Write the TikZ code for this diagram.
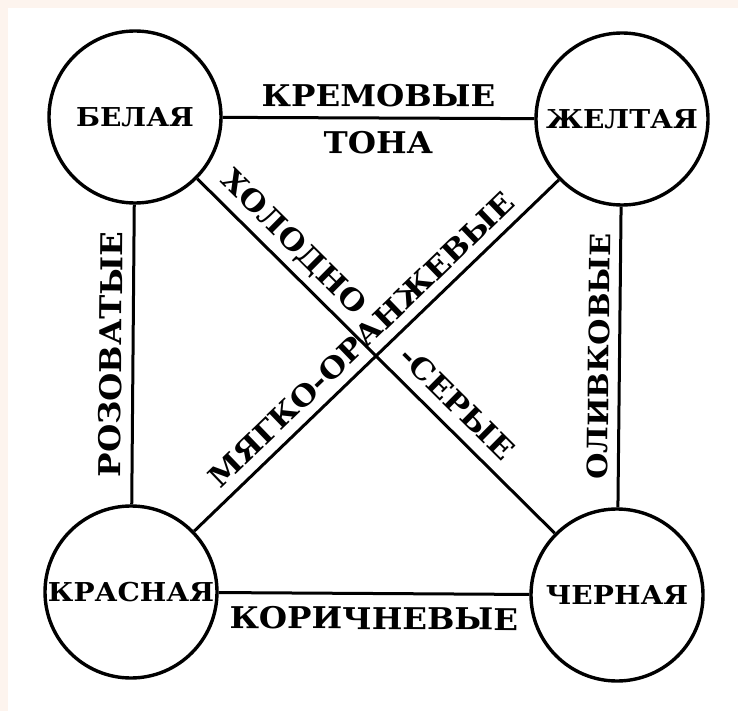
\documentclass[tikz,border=0pt]{standalone}
\usepackage{fontspec}
\setmainfont{DejaVu Serif}
\newfontfamily\lblfont{DejaVu Serif Bold}[FakeStretch=1.08]
\definecolor{bgpink}{RGB}{253,244,238}
\begin{document}
\begin{tikzpicture}[x=1pt,y=-1pt,
  circ/.style={circle, draw, line width=3.4pt, minimum size=172pt, inner sep=0pt,
    font=\lblfont\fontsize{26}{26}\selectfont},
  conn/.style={line width=3pt},
  labA/.style={font=\lblfont\fontsize{30}{30}\selectfont, sloped, anchor=south,
    inner xsep=0pt, inner ysep=#1, text depth=0pt},
  labB/.style={font=\lblfont\fontsize{30}{30}\selectfont, sloped, anchor=north,
    inner xsep=0pt, inner ysep=#1, text depth=0pt},
  diag/.style={font=\lblfont\fontsize{29}{29}\selectfont},
  narrow/.style={font=\lblfont\fontsize{28}{28}\selectfont}]
\fill[bgpink] (0,0) rectangle (738,711);
\fill[white] (8,8) rectangle (738,711);
\useasboundingbox (0,0) rectangle (738,711);
\node[circ] (W) at (135,117) {\makebox[0pt]{БЕЛАЯ}};
\node[circ] (Y) at (622,119) {\makebox[0pt]{ЖЕЛТАЯ}};
\node[circ] (R) at (131,592) {\makebox[0pt]{КРАСНАЯ}};
\node[circ] (K) at (617,595) {\makebox[0pt]{ЧЕРНАЯ}};
\draw[conn] (W) -- (Y)
  node[labA=10pt, midway] (l1) {КРЕМОВЫЕ}
  node[labB=12pt, midway] (l2) {ТОНА};
\draw[conn] (R) -- (W) node[labA=10pt, midway] (l3) {РОЗОВАТЫЕ};
\draw[conn] (Y) -- (K) node[labA=9pt, narrow, midway] (l4) {ОЛИВКОВЫЕ};
\draw[conn] (R) -- (K) node[labB=12pt, midway] (l5) {КОРИЧНЕВЫЕ};
\draw[conn] (W) -- (K)
  node[labA=12pt, diag, pos=0.225] (l6) {ХОЛОДНО}
  node[labA=12pt, diag, pos=0.68] (l7) {-СЕРЫЕ};
\draw[conn] (R) -- (Y) node[labA=10pt, diag, pos=0.5] (l8) {МЯГКО-ОРАНЖЕВЫЕ};
\end{tikzpicture}
\end{document}
